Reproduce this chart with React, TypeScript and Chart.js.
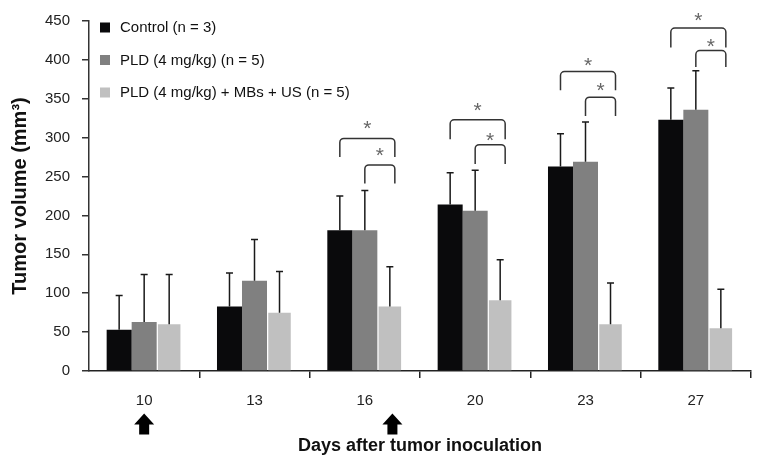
import React, { useEffect, useRef } from 'react';
import { Chart, registerables } from 'chart.js';

Chart.register(...registerables);

// ---- data ----
const days = ['10', '13', '16', '20', '23', '27'];
const seriesLabels = ['Control (n = 3)', 'PLD (4 mg/kg) (n = 5)', 'PLD (4 mg/kg) + MBs + US (n = 5)'];
const controlMean = [53, 83, 181, 214, 263, 323];
const controlSD = [44, 43, 44, 41, 42, 41];
const pldMean = [63, 116, 181, 206, 269, 336];
const pldSD = [61, 53, 51, 52, 51, 50];
const mbsMean = [60, 75, 83, 91, 60, 55];
const mbsSD = [64, 53, 51, 52, 53, 50];
const yMin = 0;
const yMax = 450;
const yStep = 50;
// significance brackets: day index, from series, to series, bracket top, leg end, star level (mm³)
const bracketDay = [2, 2, 3, 3, 4, 4, 5, 5];
const bracketFrom = [0, 1, 0, 1, 0, 1, 0, 1];
const bracketTo = [2, 2, 2, 2, 2, 2, 2, 2];
const bracketTop = [299, 265, 323, 291, 385, 352, 441, 412];
const bracketLeg = [275, 241, 298, 266, 361, 328, 416, 391];
const starLevel = [316, 281, 339, 301, 397, 365, 455, 422];
// treatment days marked with arrows
const treatmentDays = [10, 17];

const colors = ['#0a0a0c', '#808080', '#c0c0c0'];
const FONT = '"Liberation Sans", Arial, sans-serif';

const means = [controlMean, pldMean, mbsMean];
const sds = [controlSD, pldSD, mbsSD];

const errorBarPlugin = {
  id: 'errorBars',
  afterDatasetsDraw(chart: any) {
    const ctx = chart.ctx;
    const y = chart.scales.y;
    ctx.save();
    ctx.strokeStyle = '#1a1a1a';
    ctx.lineWidth = 1.5;
    means.forEach((m, s) => {
      const meta = chart.getDatasetMeta(s);
      meta.data.forEach((bar: any, i: number) => {
        const top = y.getPixelForValue(m[i] + sds[s][i]);
        ctx.beginPath();
        ctx.moveTo(bar.x, bar.y);
        ctx.lineTo(bar.x, top);
        ctx.moveTo(bar.x - 3.5, top);
        ctx.lineTo(bar.x + 3.5, top);
        ctx.stroke();
      });
    });
    ctx.restore();
  },
};

const annotationPlugin = {
  id: 'annotations',
  afterDraw(chart: any) {
    const ctx = chart.ctx;
    const ys = chart.scales.y;
    const xs = chart.scales.x;
    const area = chart.chartArea;
    ctx.save();
    // brackets
    ctx.strokeStyle = '#333';
    ctx.lineWidth = 1.5;
    const r = 4;
    bracketDay.forEach((d, k) => {
      const x1 = chart.getDatasetMeta(bracketFrom[k]).data[d].x;
      const x2 = chart.getDatasetMeta(bracketTo[k]).data[d].x + 5;
      const yt = ys.getPixelForValue(bracketTop[k]);
      const yl = ys.getPixelForValue(bracketLeg[k]);
      ctx.beginPath();
      ctx.moveTo(x1, yl);
      ctx.lineTo(x1, yt + r);
      ctx.arcTo(x1, yt, x1 + r, yt, r);
      ctx.lineTo(x2 - r, yt);
      ctx.arcTo(x2, yt, x2, yt + r, r);
      ctx.lineTo(x2, yl);
      ctx.stroke();
      // star
      ctx.fillStyle = '#666';
      ctx.font = `21px ${FONT}`;
      ctx.textAlign = 'center';
      ctx.textBaseline = 'alphabetic';
      const mt = ctx.measureText('*');
      const sy = ys.getPixelForValue(starLevel[k]);
      const off = (mt.actualBoundingBoxAscent - mt.actualBoundingBoxDescent) / 2;
      ctx.fillText('*', (x1 + x2) / 2, sy + off);
    });
    // legend
    ctx.font = `15px ${FONT}`;
    ctx.textAlign = 'left';
    ctx.textBaseline = 'middle';
    chart.data.datasets.forEach((ds: any, i: number) => {
      const cy = area.top + 6.5 + i * 32.5;
      ctx.fillStyle = ds.backgroundColor;
      ctx.fillRect(area.left + 11, cy - 5, 10, 10);
      ctx.fillStyle = '#111';
      ctx.fillText(ds.label, area.left + 31, cy + 0.5);
    });
    // treatment arrows
    ctx.fillStyle = '#000';
    const dayNums = days.map(Number);
    treatmentDays.forEach((t) => {
      let i = 0;
      while (i < dayNums.length - 2 && dayNums[i + 1] <= t) i++;
      const frac = (t - dayNums[i]) / (dayNums[i + 1] - dayNums[i]);
      const p0 = xs.getPixelForValue(i);
      const p1 = xs.getPixelForValue(i + 1);
      const cx = p0 + frac * (p1 - p0);
      const top = area.bottom + 42.5;
      ctx.beginPath();
      ctx.moveTo(cx, top);
      ctx.lineTo(cx + 10, top + 11);
      ctx.lineTo(cx + 5, top + 11);
      ctx.lineTo(cx + 5, top + 21);
      ctx.lineTo(cx - 5, top + 21);
      ctx.lineTo(cx - 5, top + 11);
      ctx.lineTo(cx - 10, top + 11);
      ctx.closePath();
      ctx.fill();
    });
    ctx.restore();
  },
};

export default function App() {
  const ref = useRef<HTMLCanvasElement>(null);
  useEffect(() => {
    if (!ref.current) return;
    const tickFont = { family: FONT, size: 15 };
    const chart = new Chart(ref.current, {
      type: 'bar',
      data: {
        labels: days,
        datasets: means.map((m, i) => ({
          label: seriesLabels[i],
          data: m,
          backgroundColor: colors[i],
          borderWidth: 0,
          categoryPercentage: 0.68,
          barPercentage: i === 2 ? 0.9 : 1.0,
        })),
      },
      options: {
        responsive: false,
        animation: false,
        layout: { padding: { top: 17, right: 8, left: 0, bottom: 0 } },
        plugins: { legend: { display: false }, tooltip: { enabled: false } },
        scales: {
          x: {
            grid: {
              offset: true,
              drawOnChartArea: false,
              tickLength: 7,
              lineWidth: 1.5,
              tickColor: (c: any) => (c.index === 0 ? 'rgba(0,0,0,0)' : '#222'),
            },
            border: { color: '#222', width: 1.5 },
            ticks: { font: tickFont, color: '#222', padding: 14 },
            title: {
              display: true,
              text: 'Days after tumor inoculation',
              font: { family: FONT, size: 18, weight: 'bold' },
              color: '#111',
              padding: { top: 0, bottom: 6 },
            },
            afterFit: (s: any) => { s.height = 92; },
          },
          y: {
            min: yMin,
            max: yMax,
            ticks: { stepSize: yStep, font: tickFont, color: '#222', padding: 12 },
            grid: { drawOnChartArea: false, tickLength: 7, lineWidth: 1.5, tickColor: '#333' },
            border: { color: '#333', width: 1.5 },
            title: {
              display: true,
              text: 'Tumor volume (mm³)',
              font: { family: FONT, size: 20, weight: 'bold' },
              color: '#111',
              padding: { top: 8, bottom: 0 },
            },
            afterFit: (s: any) => { s.width = 89; },
          },
        },
      },
      plugins: [errorBarPlugin, annotationPlugin],
    } as any);
    return () => chart.destroy();
  }, []);
  return (
    <div style={{ position: 'fixed', left: 0, top: 0, width: 759, height: 463, background: '#fff' }}>
      <canvas ref={ref} width={759} height={463} style={{ display: 'block' }} />
    </div>
  );
}
